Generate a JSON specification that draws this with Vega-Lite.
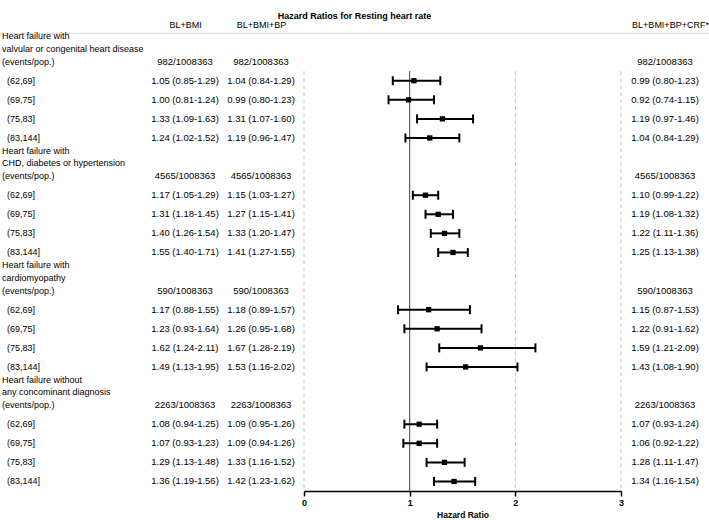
{
  "$schema": "https://vega.github.io/schema/vega-lite/v6.json",
  "padding": {"top": 12, "left": 0, "right": 0, "bottom": 0},
  "background": "white",
  "config": {"font": "Liberation Sans", "view": {"stroke": null}},
  "title": {"text": "Hazard Ratios for Resting heart rate", "fontSize": 9, "fontWeight": "bold", "anchor": "middle", "offset": -1, "color": "#000"},
  "datasets": {
    "rows": [
      {"line": 1, "label": "Heart failure with\nvalvular or congenital heart disease"},
      {"line": 2, "label": "(events/pop.)", "c1": "982/1008363", "c2": "982/1008363", "c3": "982/1008363"},
      {"line": 3, "label": "(62,69]", "c1": "1.05 (0.85-1.29)", "c2": "1.04 (0.84-1.29)", "c3": "0.99 (0.80-1.23)", "hr": 1.04, "lo": 0.84, "hi": 1.29},
      {"line": 4, "label": "(69,75]", "c1": "1.00 (0.81-1.24)", "c2": "0.99 (0.80-1.23)", "c3": "0.92 (0.74-1.15)", "hr": 0.99, "lo": 0.80, "hi": 1.23},
      {"line": 5, "label": "(75,83]", "c1": "1.33 (1.09-1.63)", "c2": "1.31 (1.07-1.60)", "c3": "1.19 (0.97-1.46)", "hr": 1.31, "lo": 1.07, "hi": 1.60},
      {"line": 6, "label": "(83,144]", "c1": "1.24 (1.02-1.52)", "c2": "1.19 (0.96-1.47)", "c3": "1.04 (0.84-1.29)", "hr": 1.19, "lo": 0.96, "hi": 1.47},
      {"line": 7, "label": "Heart failure with\nCHD, diabetes or hypertension"},
      {"line": 8, "label": "(events/pop.)", "c1": "4565/1008363", "c2": "4565/1008363", "c3": "4565/1008363"},
      {"line": 9, "label": "(62,69]", "c1": "1.17 (1.05-1.29)", "c2": "1.15 (1.03-1.27)", "c3": "1.10 (0.99-1.22)", "hr": 1.15, "lo": 1.03, "hi": 1.27},
      {"line": 10, "label": "(69,75]", "c1": "1.31 (1.18-1.45)", "c2": "1.27 (1.15-1.41)", "c3": "1.19 (1.08-1.32)", "hr": 1.27, "lo": 1.15, "hi": 1.41},
      {"line": 11, "label": "(75,83]", "c1": "1.40 (1.26-1.54)", "c2": "1.33 (1.20-1.47)", "c3": "1.22 (1.11-1.36)", "hr": 1.33, "lo": 1.20, "hi": 1.47},
      {"line": 12, "label": "(83,144]", "c1": "1.55 (1.40-1.71)", "c2": "1.41 (1.27-1.55)", "c3": "1.25 (1.13-1.38)", "hr": 1.41, "lo": 1.27, "hi": 1.55},
      {"line": 13, "label": "Heart failure with\ncardiomyopathy"},
      {"line": 14, "label": "(events/pop.)", "c1": "590/1008363", "c2": "590/1008363", "c3": "590/1008363"},
      {"line": 15, "label": "(62,69]", "c1": "1.17 (0.88-1.55)", "c2": "1.18 (0.89-1.57)", "c3": "1.15 (0.87-1.53)", "hr": 1.18, "lo": 0.89, "hi": 1.57},
      {"line": 16, "label": "(69,75]", "c1": "1.23 (0.93-1.64)", "c2": "1.26 (0.95-1.68)", "c3": "1.22 (0.91-1.62)", "hr": 1.26, "lo": 0.95, "hi": 1.68},
      {"line": 17, "label": "(75,83]", "c1": "1.62 (1.24-2.11)", "c2": "1.67 (1.28-2.19)", "c3": "1.59 (1.21-2.09)", "hr": 1.67, "lo": 1.28, "hi": 2.19},
      {"line": 18, "label": "(83,144]", "c1": "1.49 (1.13-1.95)", "c2": "1.53 (1.16-2.02)", "c3": "1.43 (1.08-1.90)", "hr": 1.53, "lo": 1.16, "hi": 2.02},
      {"line": 19, "label": "Heart failure without\nany concominant diagnosis"},
      {"line": 20, "label": "(events/pop.)", "c1": "2263/1008363", "c2": "2263/1008363", "c3": "2263/1008363"},
      {"line": 21, "label": "(62,69]", "c1": "1.08 (0.94-1.25)", "c2": "1.09 (0.95-1.26)", "c3": "1.07 (0.93-1.24)", "hr": 1.09, "lo": 0.95, "hi": 1.26},
      {"line": 22, "label": "(69,75]", "c1": "1.07 (0.93-1.23)", "c2": "1.09 (0.94-1.26)", "c3": "1.06 (0.92-1.22)", "hr": 1.09, "lo": 0.94, "hi": 1.26},
      {"line": 23, "label": "(75,83]", "c1": "1.29 (1.13-1.48)", "c2": "1.33 (1.16-1.52)", "c3": "1.28 (1.11-1.47)", "hr": 1.33, "lo": 1.16, "hi": 1.52},
      {"line": 24, "label": "(83,144]", "c1": "1.36 (1.19-1.56)", "c2": "1.42 (1.23-1.62)", "c3": "1.34 (1.16-1.54)", "hr": 1.42, "lo": 1.23, "hi": 1.62}
    ]
  },
  "spacing": 0,
  "bounds": "flush",
  "resolve": {"scale": {"x": "independent", "y": "independent"}},
  "hconcat": [
    {
      "width": 152, "height": 458,
      "data": {"name": "rows"},
      "encoding": {
        "x": {"datum": "label", "type": "nominal", "scale": {"type": "point", "padding": 0, "align": 0}, "axis": {"orient": "top", "title": null, "labels": false, "ticks": false, "tickSize": 0, "domainColor": "#e3e3e3", "domainWidth": 1.5}},
        "y": {"field": "line", "type": "quantitative", "scale": {"domain": [0.5, 24.5], "reverse": true, "nice": false, "zero": false}, "axis": null},
        "text": {"field": "label", "type": "nominal"}
      },
      "layer": [
        {
          "transform": [{"filter": "indexof(datum.label, '\\n') >= 0"}],
          "mark": {"type": "text", "align": "left", "baseline": "middle", "dx": 2, "dy": -6.3, "fontSize": 9, "lineBreak": "\n", "lineHeight": 12.6, "color": "#000"}
        },
        {
          "transform": [{"filter": "indexof(datum.label, '\\n') < 0 && !isValid(datum.hr)"}],
          "mark": {"type": "text", "align": "left", "baseline": "middle", "dx": 2, "fontSize": 9, "color": "#000"}
        },
        {
          "transform": [{"filter": "isValid(datum.hr)"}],
          "mark": {"type": "text", "align": "left", "baseline": "middle", "dx": 7, "fontSize": 9, "color": "#000"}
        }
      ]
    },
    {
      "width": 66, "height": 458,
      "data": {"name": "rows"},
      "transform": [{"filter": "isValid(datum.c1)"}],
      "mark": {"type": "text", "align": "center", "baseline": "middle", "fontSize": 9.5, "color": "#000"},
      "encoding": {
        "x": {"datum": "BL+BMI", "type": "nominal", "scale": {"paddingInner": 0, "paddingOuter": 0}, "axis": {"orient": "top", "title": null, "ticks": false, "tickSize": 0, "labelFontSize": 9, "labelColor": "#000", "labelPadding": 4, "labelAngle": 0, "domainColor": "#e3e3e3", "domainWidth": 1.5}},
        "y": {"field": "line", "type": "quantitative", "scale": {"domain": [0.5, 24.5], "reverse": true, "nice": false, "zero": false}, "axis": null},
        "text": {"field": "c1", "type": "nominal"}
      }
    },
    {
      "width": 86, "height": 458,
      "data": {"name": "rows"},
      "transform": [{"filter": "isValid(datum.c2)"}],
      "mark": {"type": "text", "align": "center", "baseline": "middle", "fontSize": 9.5, "color": "#000"},
      "encoding": {
        "x": {"datum": "BL+BMI+BP", "type": "nominal", "scale": {"paddingInner": 0, "paddingOuter": 0}, "axis": {"orient": "top", "title": null, "ticks": false, "tickSize": 0, "labelFontSize": 9, "labelColor": "#000", "labelPadding": 4, "labelAngle": 0, "domainColor": "#e3e3e3", "domainWidth": 1.5}},
        "y": {"field": "line", "type": "quantitative", "scale": {"domain": [0.5, 24.5], "reverse": true, "nice": false, "zero": false}, "axis": null},
        "text": {"field": "c2", "type": "nominal"}
      }
    },
    {
      "width": 317, "height": 458,
      "resolve": {"axis": {"x": "independent"}},
      "layer": [
        {
          "data": {"values": [{"ref": 0}, {"ref": 2}, {"ref": 3}]},
          "mark": {"type": "rule", "strokeDash": [4, 3], "color": "#c4c4c4", "strokeWidth": 1},
          "encoding": {
            "x": {"field": "ref", "type": "quantitative", "scale": {"domain": [0, 3], "nice": false, "zero": false},
              "axis": {"orient": "bottom", "values": [0, 1, 2, 3], "format": "d", "grid": false, "labelFlush": false, "title": "Hazard Ratio", "titleFontSize": 8.5, "titleFontWeight": "bold", "titleColor": "#000", "titlePadding": 3, "labelFontSize": 9, "labelFontWeight": "bold", "labelColor": "#000", "labelPadding": 2, "tickSize": 5, "tickColor": "#000", "tickWidth": 1.5, "domainColor": "#000", "domainWidth": 1.5}},
            "y": {"datum": 2.5, "type": "quantitative", "scale": {"domain": [0.5, 24.5], "reverse": true, "nice": false, "zero": false}, "axis": null},
            "y2": {"datum": 24.5}
          }
        },
        {
          "data": {"values": [{"ref": 1}]},
          "mark": {"type": "rule", "color": "#444", "strokeWidth": 1},
          "encoding": {
            "x": {"field": "ref", "type": "quantitative", "axis": {"orient": "top", "labels": false, "ticks": false, "title": null, "grid": false, "domainColor": "#e3e3e3", "domainWidth": 1.5}},
            "y": {"datum": 2.5, "type": "quantitative", "axis": null},
            "y2": {"datum": 24.5}
          }
        },
        {
          "data": {"name": "rows"},
          "transform": [{"filter": "isValid(datum.hr)"}],
          "layer": [
            {
              "mark": {"type": "rule", "strokeWidth": 2, "color": "#000"},
              "encoding": {
                "x": {"field": "lo", "type": "quantitative", "axis": null},
                "x2": {"field": "hi"},
                "y": {"field": "line", "type": "quantitative", "axis": null}
              }
            },
            {
              "mark": {"type": "tick", "orient": "vertical", "thickness": 2, "size": 9, "color": "#000", "opacity": 1},
              "encoding": {
                "x": {"field": "lo", "type": "quantitative", "axis": null},
                "y": {"field": "line", "type": "quantitative", "axis": null}
              }
            },
            {
              "mark": {"type": "tick", "orient": "vertical", "thickness": 2, "size": 9, "color": "#000", "opacity": 1},
              "encoding": {
                "x": {"field": "hi", "type": "quantitative", "axis": null},
                "y": {"field": "line", "type": "quantitative", "axis": null}
              }
            },
            {
              "mark": {"type": "point", "shape": "square", "filled": true, "size": 28, "color": "#000", "opacity": 1},
              "encoding": {
                "x": {"field": "hr", "type": "quantitative", "axis": null},
                "y": {"field": "line", "type": "quantitative", "axis": null}
              }
            }
          ]
        }
      ]
    },
    {
      "width": 88, "height": 458,
      "data": {"name": "rows"},
      "transform": [{"filter": "isValid(datum.c3)"}],
      "mark": {"type": "text", "align": "center", "baseline": "middle", "fontSize": 9.5, "color": "#000"},
      "encoding": {
        "x": {"datum": "BL+BMI+BP+CRF*", "type": "nominal", "scale": {"paddingInner": 0, "paddingOuter": 0}, "axis": {"orient": "top", "title": null, "ticks": false, "tickSize": 0, "labelFontSize": 9, "labelColor": "#000", "labelPadding": 4, "labelAngle": 0, "labelOffset": 5, "domainColor": "#e3e3e3", "domainWidth": 1.5}},
        "y": {"field": "line", "type": "quantitative", "scale": {"domain": [0.5, 24.5], "reverse": true, "nice": false, "zero": false}, "axis": null},
        "text": {"field": "c3", "type": "nominal"}
      }
    }
  ]
}
